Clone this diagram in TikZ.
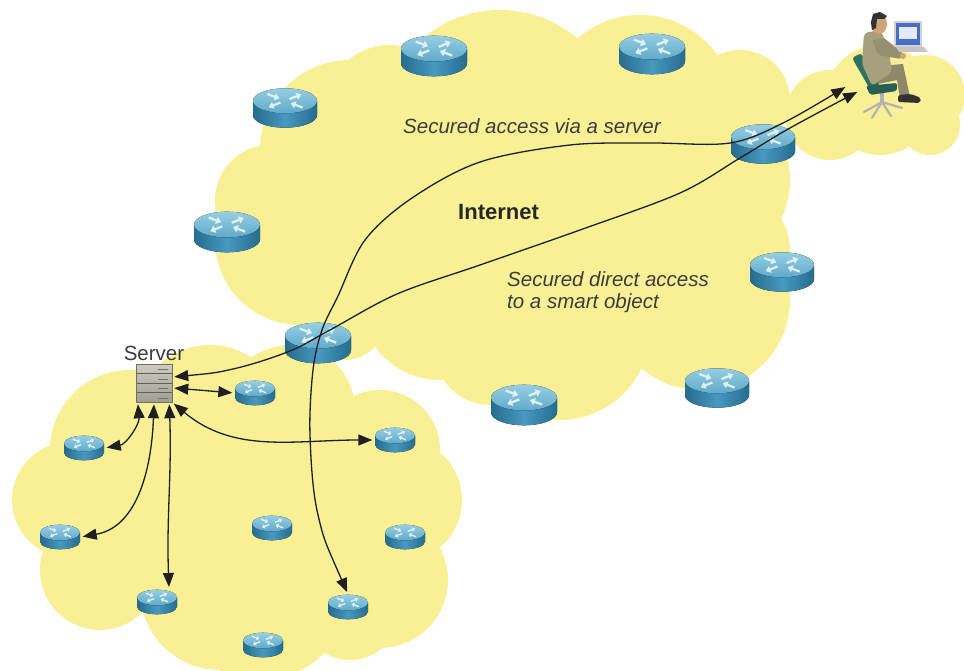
\documentclass[tikz,border=0pt]{standalone}
\usepackage{fontspec}
\setmainfont{Liberation Sans}
\usetikzlibrary{positioning,calc,arrows.meta}

\definecolor{cloudy}{RGB}{249,240,150}
\definecolor{rlight}{RGB}{150,206,226}
\definecolor{rtop}{RGB}{96,170,202}
\definecolor{rmid}{RGB}{72,152,192}
\definecolor{rdark}{RGB}{38,108,142}
\definecolor{txtgray}{RGB}{60,60,60}
\definecolor{srvlight}{RGB}{206,204,192}
\definecolor{srvdark}{RGB}{160,158,146}
\definecolor{khaki}{RGB}{166,160,124}
\definecolor{chairgreen}{RGB}{46,112,98}
\definecolor{screenblue}{RGB}{70,110,200}
\definecolor{skin}{RGB}{205,165,120}

\begin{document}
\begin{tikzpicture}[x=1pt, y=1pt, >={Triangle[length=14pt,width=11pt]},
router/.style={minimum width=2*#1+1, minimum height=1.23*#1+1, inner sep=0pt,
  path picture={
    \begin{scope}[shift={(path picture bounding box.center)}]
    \fill[left color=rdark, right color=rdark, middle color=rmid]
      (-#1,0.225*#1) -- (-#1,-0.225*#1)
      arc[start angle=180, end angle=360, x radius=#1, y radius=0.39*#1]
      -- (#1,0.225*#1) -- cycle;
    \fill[top color=rlight, bottom color=rtop] (0,0.225*#1) ellipse[x radius=#1, y radius=0.39*#1];
    \foreach \a in {45,225}
      \draw[white!70!rlight, line width=0.07*#1, -{Triangle[length=0pt 2.2, width=0pt 3.2]}]
        ({0.2*#1*cos(\a)},{0.225*#1+0.078*#1*sin(\a)}) -- ({0.72*#1*cos(\a)},{0.225*#1+0.28*#1*sin(\a)});
    \foreach \a in {135,315}
      \draw[white!70!rlight, line width=0.07*#1, -{Triangle[length=0pt 2.2, width=0pt 3.2]}]
        ({0.78*#1*cos(\a)},{0.225*#1+0.3*#1*sin(\a)}) -- ({0.25*#1*cos(\a)},{0.225*#1+0.1*#1*sin(\a)});
    \end{scope}}},
server/.style={minimum width=36, minimum height=38, inner sep=0pt, draw=srvdark!70!black, line width=0.5,
  top color=srvlight, bottom color=srvdark,
  path picture={
    \foreach \k in {1,2,3}
      \draw[srvdark!60!black, line width=0.7] ($(path picture bounding box.south west)!\k/4!(path picture bounding box.north west)$) -- ($(path picture bounding box.south east)!\k/4!(path picture bounding box.north east)$);
    \foreach \k in {0,...,3}
      \draw[black!55, line width=1.4] ($(path picture bounding box.south east)!{(\k+0.4)/4}!(path picture bounding box.north east)+(-4,0)$) -- +(-10,0);
  }},
link/.style={draw=black!88, line width=1.3, <->, shorten <=2pt, shorten >=2pt},
lbl/.style={text=txtgray, font=\fontsize{20.5}{24}\selectfont},
note/.style={text=txtgray, font=\itshape\fontsize{20.5}{22.5}\selectfont, align=left, inner sep=0pt}]

\useasboundingbox (0,0) rectangle (964,-671);

% the three clouds, one disc at a time
\foreach \cx/\cy/\r in {500/-130/120, 390/-110/65, 350/-150/90, 270/-200/55, 300/-240/85, 640/-110/95,
  740/-100/50, 700/-180/90, 730/-250/60, 700/-300/90, 560/-330/90, 440/-300/80, 490/-350/55, 345/-320/40,
  470/-230/100, 620/-220/90, 560/-290/60,
  130/-450/80, 210/-420/75, 290/-410/65, 70/-500/58, 100/-570/60, 220/-590/80, 260/-590/90,
  270/-500/100, 320/-560/80, 380/-450/60, 400/-500/62, 380/-580/68, 350/-610/50, 160/-520/50,
  830/-115/45, 880/-100/55, 925/-95/40, 930/-125/30}
  \fill[cloudy] (\cx,\cy) circle (\r);

\node[router=33] (i1) at (434,-56) {};
\node[router=33] (i2) at (652,-54) {};
\node[router=32] (i3) at (285,-108) {};
\node[router=33] (i4) at (227,-232) {};
\node[router=32] (i5) at (763,-144) {};
\node[router=32] (i6) at (782,-272) {};
\node[router=33] (i7) at (318,-343) {};
\node[router=33] (i8) at (524,-405) {};
\node[router=32] (i9) at (717,-388) {};

\node[router=20] (l1) at (255,-393) {};
\node[router=20] (l2) at (84,-448) {};
\node[router=20] (l3) at (395,-440) {};
\node[router=20] (l4) at (60,-537) {};
\node[router=20] (l5) at (272,-528) {};
\node[router=20] (l6) at (405,-537) {};
\node[router=20] (l7) at (157,-602) {};
\node[router=20] (l8) at (348,-607) {};
\node[router=20] (l9) at (263,-645) {};

\node[server, label distance=3pt, label={[lbl]above:Server}] (srv) at (154,-383) {};

\node[note, anchor=base west] (via) at (403,-134) {Secured access via a server};
\node[font=\bfseries\fontsize{22}{26}\selectfont, text=black!85, anchor=base west, inner sep=0pt] (inet) at (458,-220) {Internet};
\node[note, anchor=north west] (direct) at (507,-271) {Secured direct access\\to a smart object};

% user at the desk
\draw[gray!60, line width=2.2, line cap=round] (882,-102) -- (864,-112) (882,-102) -- (872,-118)
  (882,-102) -- (891,-116) (882,-102) -- (902,-108);
\fill[gray!60] (880,-92) rectangle (884,-103);
\fill[chairgreen, rounded corners=3] (852,-58) -- (861,-53) -- (880,-86) -- (874,-96) -- cycle;
\fill[chairgreen!85!black, rounded corners=2] (866,-86) -- (897,-83) -- (897,-91) -- (870,-95) -- cycle;
\fill[khaki!85!black] (880,-66) -- (903,-64) -- (910,-97) -- (900,-98) -- (897,-80) -- (878,-84) -- cycle;
\fill[black!80, rounded corners=2] (898,-95) -- (911,-94) -- (921,-98) -- (920,-103) -- (898,-102) -- cycle;
\fill[khaki, rounded corners=4] (864,-33) -- (880,-30) -- (888,-45) -- (892,-72) -- (872,-86) -- (862,-64) -- cycle;
\fill[khaki!90!black, rounded corners=2] (872,-40) -- (884,-38) -- (903,-53) -- (901,-59) -- (878,-55) -- cycle;
\fill[skin] (903,-56) circle (3);
\fill[skin] (879,-24) ellipse[x radius=8, y radius=10];
\fill[black!80] (871,-22) -- (873,-14) -- (880,-12) -- (887,-16) -- (884,-19) -- (877,-19) -- (876,-28) -- (872,-30) -- cycle;
\fill[gray!35] (894,-21) rectangle (922,-47);
\fill[screenblue] (896,-23) rectangle (920,-45);
\fill[white!85!screenblue] (899,-27) rectangle (917,-39);
\fill[gray!45] (896,-47) -- (924,-47) -- (928,-52) -- (899,-52) -- cycle;
\coordinate (uA) at (847,-86);
\coordinate (uB) at (859,-91);

\draw[link] (srv.-15) -- (l1.west);
\draw[link] (srv.south east) to[out=-40, in=180] (l3.west);
\draw[link] ([xshift=2]srv.south west) to[out=-85, in=10] (l2.east);
\draw[link] (srv.south) to[out=-92, in=10] (l4.east);
\draw[link] ([xshift=-3]srv.south east) to[out=-88, in=92] ([xshift=12]l7.north);
\draw[link] plot[smooth, tension=0.55] coordinates {(srv.18) (233,-369) (290,-351) (330,-330)
  (397,-294) (480,-265) (580,-230) (680,-193) (740,-158) (790,-128) (uB)};
\draw[link] plot[smooth, tension=0.55] coordinates {(l8.north) (318,-515) (310,-435) (313,-370)
  (322,-330) (338,-296) (365,-240) (412,-198) (480,-162) (570,-145) (650,-143) (730,-143)
  (785,-122) (uA)};

\end{tikzpicture}
\end{document}
